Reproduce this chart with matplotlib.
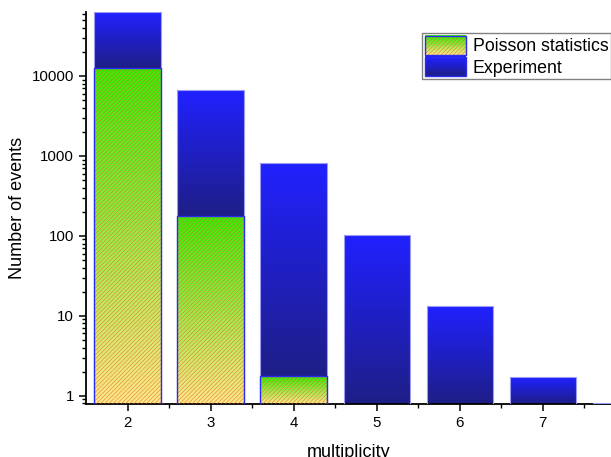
import numpy as np
import matplotlib
matplotlib.use("Agg")
import matplotlib.pyplot as plt
from matplotlib.colors import to_rgb
from matplotlib.patches import Rectangle
from matplotlib.legend_handler import HandlerBase
from matplotlib.ticker import FuncFormatter, NullFormatter, LogLocator

plt.rcParams['font.family'] = ['Liberation Sans', 'DejaVu Sans']
plt.rcParams['hatch.linewidth'] = 0.45

# ---- data ----
multiplicity = [2, 3, 4, 5, 6, 7, 8]
experiment = [63000, 6600, 820, 103, 13.3, 1.7, 0.81]
poisson_mult = [2, 3, 4]
poisson = [12600, 178, 1.74]
xtick_labels = ['2', '3', '4', '5', '6', '7']
series_labels = ['Poisson statistics', 'Experiment']

# ---- style ----
exp_top, exp_bot = to_rgb('#2020ff'), to_rgb('#1e1e86')
poi_top, poi_bot = to_rgb('#33ee00'), to_rgb('#fde887')
hatch_col = (0.92, 0.38, 0.18, 0.75)
HATCH = '/' * 8
width = 0.8
ybottom, ytop = 0.787, 63000
NSL = 60

fig = plt.figure(figsize=(6.11, 4.57), dpi=100)
ax = fig.add_axes([86/611, 1-404/457, 1-86/611, (404-12)/457])
ax.set_yscale('log')
ax.set_ylim(ybottom, ytop)
ax.set_xlim(1.5, 7.82)


def grad_bar(x, lo, hi, ctop, cbot):
    lo = max(lo, ybottom)
    hi = min(hi, ytop)
    edges = np.logspace(np.log10(lo), np.log10(hi), NSL + 1)
    for i in range(NSL):
        t = (i + 0.5) / NSL  # 0 bottom, 1 top
        c = tuple(cb + (ct - cb) * t for ct, cb in zip(ctop, cbot))
        ax.bar(x, edges[i + 1] - edges[i], width, bottom=edges[i], color=c,
               linewidth=0, antialiased=False, zorder=2)


poi_map = dict(zip(poisson_mult, poisson))
# experiment bars (stacked above poisson)
for x, v in zip(multiplicity, experiment):
    base = poi_map.get(x, ybottom)
    grad_bar(x, base, v, exp_top, exp_bot)
ax.bar(multiplicity, experiment, width, bottom=1e-3, fill=False,
       edgecolor='#9c9cf0', linewidth=0.8, zorder=3)

# poisson bars
for x, v in zip(poisson_mult, poisson):
    grad_bar(x, ybottom, v, poi_top, poi_bot)
ax.bar(poisson_mult, poisson, width, bottom=1e-3, fill=False, hatch=HATCH,
       edgecolor=hatch_col, linewidth=0, zorder=4)
ax.bar(poisson_mult, poisson, width, bottom=1e-3, fill=False,
       edgecolor='#2a2af0', linewidth=1.0, zorder=5)

# ---- axes styling ----
for s in ['top', 'right']:
    ax.spines[s].set_visible(False)
for s in ['left', 'bottom']:
    ax.spines[s].set_linewidth(1.3)
ax.set_xticks(multiplicity[:-1])
ax.set_xticklabels(xtick_labels)
ax.set_xticks(np.arange(2.5, 8.0, 1.0), minor=True)
ax.yaxis.set_major_locator(LogLocator(base=10, numticks=10))
ax.yaxis.set_minor_locator(LogLocator(base=10, subs=np.arange(2, 10), numticks=20))
ax.yaxis.set_major_formatter(FuncFormatter(lambda v, p: f"{v:g}"))
ax.yaxis.set_minor_formatter(NullFormatter())
ax.tick_params(which='major', direction='out', length=5, width=1.1,
               labelsize=10.8, color='black')
ax.tick_params(which='minor', direction='out', length=3, width=1.0)
ax.set_xlabel('multiplicity', fontsize=13, labelpad=10)
ax.set_ylabel('Number of events', fontsize=13, labelpad=4)


# ---- legend with gradient handles ----
class GradHandler(HandlerBase):
    def __init__(self, ctop, cbot, hatch=None, edge='#2a2af0'):
        super().__init__()
        self.ctop, self.cbot, self.hatch, self.edge = ctop, cbot, hatch, edge

    def create_artists(self, legend, orig_handle, xdescent, ydescent,
                       width, height, fontsize, trans):
        arts = []
        n = 20
        for i in range(n):
            t = (i + 0.5) / n
            c = tuple(cb + (ct - cb) * t for ct, cb in zip(self.ctop, self.cbot))
            arts.append(Rectangle((-xdescent, -ydescent + height * i / n), width,
                                  height / n + 0.3, facecolor=c, linewidth=0,
                                  transform=trans))
        if self.hatch:
            arts.append(Rectangle((-xdescent, -ydescent), width, height,
                                  fill=False, hatch=self.hatch, edgecolor=hatch_col,
                                  linewidth=0, transform=trans))
        arts.append(Rectangle((-xdescent, -ydescent), width, height, fill=False,
                              edgecolor=self.edge, linewidth=1.0, transform=trans))
        return arts


h1 = Rectangle((0, 0), 1, 1)
h2 = Rectangle((0, 0), 1, 1)
leg = ax.legend([h1, h2], series_labels,
                handler_map={h1: GradHandler(poi_top, poi_bot, HATCH),
                             h2: GradHandler(exp_top, exp_bot)},
                loc='upper left', bbox_to_anchor=(0.64, 0.946), fontsize=12.8,
                frameon=True, fancybox=False, edgecolor='#808080',
                framealpha=1, handlelength=2.3, handleheight=1.3,
                handletextpad=0.4, labelspacing=0.08, borderpad=0.15,
                borderaxespad=0)
leg.get_frame().set_linewidth(1.0)

fig.savefig('out.png', dpi=100)
